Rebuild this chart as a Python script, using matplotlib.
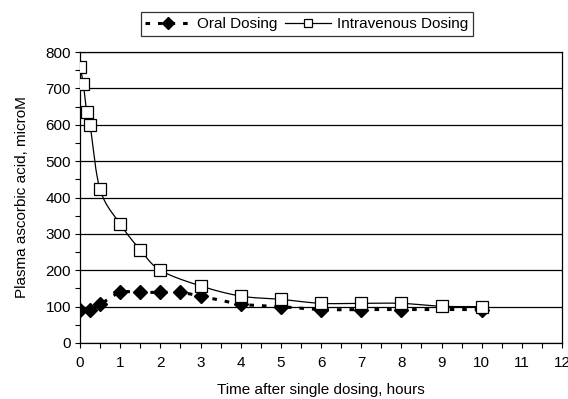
import numpy as np
import matplotlib
matplotlib.use("Agg")
import matplotlib.pyplot as plt
from matplotlib.ticker import MultipleLocator

plt.rcParams['font.family'] = ['Liberation Sans', 'DejaVu Sans']

iv_time = [0, 0.083, 0.167, 0.25, 0.5, 1, 1.5, 2, 3, 4, 5, 6, 7, 8, 9, 10]
iv_conc = [760, 712, 635, 600, 422, 327, 256, 200, 157, 129, 120, 109, 109, 109, 101, 100]

oral_time = [0, 0.25, 0.5, 1, 1.5, 2, 2.5, 3, 4, 5, 6, 7, 8, 10]
oral_conc = [92, 92, 106, 139, 139, 139, 139, 129, 107, 100, 92, 92, 92, 92]

x_ticks = list(range(0, 13))
y_ticks = list(range(0, 900, 100))


def smooth(x, y, n=30):
    x = np.asarray(x, float)
    y = np.asarray(y, float)
    px = np.concatenate([[2 * x[0] - x[1]], x, [2 * x[-1] - x[-2]]])
    py = np.concatenate([[2 * y[0] - y[1]], y, [2 * y[-1] - y[-2]]])
    xs, ys = [], []
    for i in range(1, len(px) - 2):
        p0, p1, p2, p3 = (np.array([px[j], py[j]]) for j in (i - 1, i, i + 1, i + 2))
        t = np.linspace(0, 1, n, endpoint=False)[:, None]
        c = 0.5 * ((2 * p1) + (-p0 + p2) * t + (2 * p0 - 5 * p1 + 4 * p2 - p3) * t ** 2
                   + (-p0 + 3 * p1 - 3 * p2 + p3) * t ** 3)
        xs.append(c[:, 0]); ys.append(c[:, 1])
    xs.append([x[-1]]); ys.append([y[-1]])
    return np.concatenate(xs), np.concatenate(ys)


FS = 11
dash = (0, (1.5, 2.6))

fig = plt.figure(figsize=(5.68, 3.99), dpi=100)
ax = fig.add_axes([80 / 568, 1 - 343 / 399, (562 - 80) / 568, (343 - 52) / 399])

ax.set_xlim(0, 12)
ax.set_ylim(0, 800)
ax.set_xticks(x_ticks)
ax.set_yticks(y_ticks)
ax.xaxis.set_minor_locator(MultipleLocator(0.5))
ax.yaxis.set_minor_locator(MultipleLocator(50))
ax.tick_params(which='both', direction='out', length=3.5, width=0.8, labelsize=FS, colors='black')
ax.tick_params(axis='x', pad=6)
ax.tick_params(axis='y', pad=3)
ax.grid(axis='y', which='major', color='black', linewidth=0.9)
ax.set_axisbelow(True)
for s in ax.spines.values():
    s.set_color('black')
    s.set_linewidth(0.9)

sx, sy = smooth(oral_time, oral_conc)
ax.plot(sx, sy, color='black', linewidth=2.2, linestyle=dash, zorder=3)
ax.plot(oral_time, oral_conc, linestyle='none', marker='D', markersize=7,
        markerfacecolor='black', markeredgecolor='black', zorder=4)

sx, sy = smooth(iv_time, iv_conc)
ax.plot(sx, sy, color='black', linewidth=0.9, zorder=5)
ax.plot(iv_time, iv_conc, linestyle='none', marker='s', markersize=8.3,
        markerfacecolor='white', markeredgecolor='black', markeredgewidth=0.9, zorder=6)

ax.set_xlabel('Time after single dosing, hours', fontsize=FS, labelpad=9)
ax.set_ylabel('Plasma ascorbic acid, microM', fontsize=FS, labelpad=12)

h1, = ax.plot([], [], color='black', linewidth=2.2, linestyle=dash,
              marker='D', markersize=6, markerfacecolor='black')
h2, = ax.plot([], [], color='black', linewidth=0.9, marker='s', markersize=6,
              markerfacecolor='white', markeredgewidth=0.9)
leg = fig.legend([h1, h2], ['Oral Dosing', 'Intravenous Dosing'], ncol=2,
                 loc='center', bbox_to_anchor=(307 / 568, 1 - 24 / 399),
                 frameon=True, fancybox=False, fontsize=FS, handlelength=3.0,
                 handletextpad=0.4, columnspacing=0.5, borderpad=0.3,
                 borderaxespad=0)
leg.get_frame().set_edgecolor('black')
leg.get_frame().set_linewidth(0.9)

fig.savefig('out.png', dpi=100)
